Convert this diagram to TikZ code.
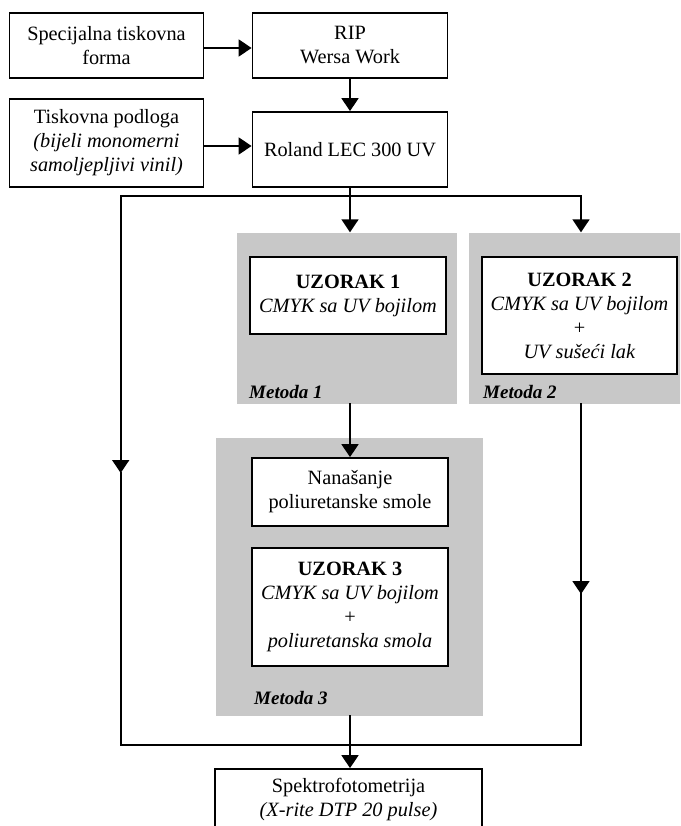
\documentclass[tikz,border=0pt]{standalone}
\usepackage{fontspec}
\setmainfont{Liberation Serif}
\usetikzlibrary{arrows.meta}
\definecolor{grayc}{RGB}{200,200,200}
\begin{document}
\begin{tikzpicture}[x=1pt,y=-1pt,
 box/.style={draw, line width=1.8pt, fill=white, inner sep=0pt, align=center, font=\fontsize{20.3}{24}\selectfont},
 grayblk/.style={fill=grayc, inner sep=0pt},
 lbl/.style={inner sep=0pt, anchor=west, font=\fontsize{19}{22}\selectfont\bfseries\itshape},
 conn/.style={line width=1.8pt, line cap=rect},
 arr/.style={conn, -{Triangle[width=17pt,length=13pt]}}
]
\clip (0,0) rectangle (680,826);
\fill[white] (0,0) rectangle (680,826);

% gray method areas
\node[grayblk, minimum width=220pt, minimum height=171.5pt] (g1) at (347,318.25) {};
\node[grayblk, minimum width=221pt, minimum height=171.5pt] (g2) at (579.5,318.25) {};
\node[grayblk, minimum width=267pt, minimum height=278pt] (g3) at (349.5,577) {};

% boxes
\node[box, minimum width=194pt, minimum height=65pt] (spec) at (106.5,45.5) {Specijalna tiskovna\\forma};
\node[box, minimum width=195pt, minimum height=65pt] (rip) at (350,45.5) {RIP\\Wersa Work};
\node[box, minimum width=194pt, minimum height=88pt] (podl) at (106.5,143) {Tiskovna podloga\\\textit{(bijeli monomerni}\\\textit{samoljepljivi vinil)}};
\node[box, minimum width=195pt, minimum height=75pt] (roland) at (350,149.5) {Roland LEC 300 UV};
\node[box, minimum width=196pt, minimum height=77pt] (u1) at (348,295.5) {\textbf{UZORAK 1}\\\textit{CMYK sa UV bojilom}};
\node[box, minimum width=195pt, minimum height=117pt] (u2) at (579.5,315.5) {\textbf{UZORAK 2}\\\textit{CMYK sa UV bojilom}\\+\\\textit{UV sušeći lak}};
\node[box, minimum width=196pt, minimum height=68pt] (nan) at (350,492) {Nanašanje\\poliuretanske smole};
\node[box, minimum width=196pt, minimum height=118pt] (u3) at (350,607) {\textbf{UZORAK 3}\\\textit{CMYK sa UV bojilom}\\+\\\textit{poliuretanska smola}};
\node[box, minimum width=267pt, minimum height=62pt] (spek) at (348.5,800) {Spektrofotometrija\\\textit{(X-rite DTP 20 pulse)}};

% labels
\node[lbl] (m1) at (249,392) {Metoda 1};
\node[lbl] (m2) at (483,392) {Metoda 2};
\node[lbl] (m3) at (254,698) {Metoda 3};

% coordinates
\coordinate (split) at (350,196);
\coordinate (lt) at (120.7,196);
\coordinate (rt) at (581,196);
\coordinate (lm) at (120.7,473);
\coordinate (rm) at (581,594);
\coordinate (lb) at (120.7,745);
\coordinate (rb) at (581,745);

% connectors
\draw[arr] ([yshift=-2.5pt]spec.east) -- ([yshift=-2.5pt]spec.east -| rip.west);
\draw[arr] (rip.south) -- (roland.north);
\draw[arr] ([yshift=-3pt]podl.east) -- ([yshift=-3pt]podl.east -| roland.west);
\draw[conn] (roland.south) -- (split);
\draw[arr] (split) -- (split |- g1.north);
\draw[arr] (rt) -- (lt) -- (lm);
\draw[arr] (rt) -- (rt |- g2.north);
\draw[conn] (lm) -- (lb) -- (rb);
\draw[arr] (rt |- g2.south) -- (rm);
\draw[conn] (rm) -- (rb);
\draw[arr] (split |- g1.south) -- (split |- nan.north);
\draw[arr] (split |- g3.south) -- (split |- spek.north);
\end{tikzpicture}
\end{document}
